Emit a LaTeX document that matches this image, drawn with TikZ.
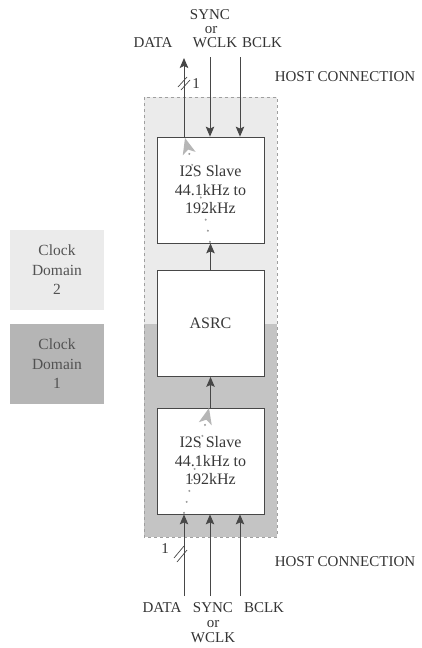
\documentclass[tikz,border=0pt]{standalone}
\usepackage{fontspec}
\setmainfont{Liberation Serif}
\usetikzlibrary{arrows.meta}
\usetikzlibrary{positioning}

\definecolor{lightdom}{gray}{0.92}
\definecolor{darkdom}{gray}{0.77}
\definecolor{keydark}{gray}{0.71}
\definecolor{wire}{gray}{0.28}
\definecolor{flow}{gray}{0.62}

\tikzset{
  blk/.style={draw=wire, line width=0.8pt, fill=white, minimum width=107pt,
    minimum height=106pt, align=center, text=black!78,
    font=\fontsize{16}{18.5}\selectfont},
  sig/.style={draw=wire, line width=0.9pt, -{Stealth[length=10pt,width=8.5pt,inset=2pt]}},
  lbl/.style={inner sep=0pt, text=black!80, font=\fontsize{15}{15}\selectfont},
  key/.style={minimum width=94pt, minimum height=80pt, align=center, text=black!68,
    font=\fontsize{15.5}{19.5}\selectfont},
  path flow/.style={draw=flow, line width=2pt, line cap=round, dash pattern=on 0.3pt off 11pt,
    -{Stealth[length=16pt,width=13pt,inset=4pt,color=flow!75,fill=flow!75]}},
}

\begin{document}
\begin{tikzpicture}[x=1pt,y=-1pt]
    \useasboundingbox (0,0) rectangle (421,648);

    % the two clock domains
    \fill[lightdom] (144,97) rectangle (277,324);
    \fill[darkdom] (144,324) rectangle (277,537);
    \draw[dashed, gray!75, line width=0.6pt] (144,97) rectangle (277,537);

    \node[key, fill=lightdom] (dom2) at (57,270) {Clock\\Domain\\2};
    \node[key, fill=keydark] (dom1) at (57,364) {Clock\\Domain\\1};

    \node[blk] (rx) at (210.5,461) {I2S Slave\\44.1kHz to\\192kHz};
    \node[blk] (asrc) at (210.5,323.5) {ASRC};
    \node[blk] (tx) at (210.5,190) {I2S Slave\\44.1kHz to\\192kHz};

    \coordinate (dataT) at (184,58);
    \coordinate (syncT) at (210,57);
    \coordinate (bclkT) at (240,57);
    \coordinate (dataB) at (184,596);
    \coordinate (syncB) at (210,596);
    \coordinate (bclkB) at (240,596);

    % host connection, top
    \draw[sig] (dataT |- tx.north) -- (dataT);
    \draw[sig] (syncT) -- (syncT |- tx.north);
    \draw[sig] (bclkT) -- (bclkT |- tx.north);
    \draw[wire, line width=0.7pt] (178,87) -- (187,77) (181,90) -- (190,80);
    \node[lbl] (nT) at (196,84) {1};

    \node[lbl] (syncTl) at (210,15) {SYNC};
    \node[lbl] (orT) at (211,30) {or};
    \node[lbl] (dataTl) at (153,43) {DATA};
    \node[lbl] (wclkTl) at (215,43) {WCLK};
    \node[lbl] (bclkTl) at (262,43) {BCLK};
    \node[lbl] (hostT) at (345,77) {HOST CONNECTION};

    % between the blocks
    \draw[sig] (rx) -- (asrc);
    \draw[sig] (asrc) -- (tx);

    % host connection, bottom
    \draw[sig] (dataB) -- (dataB |- rx.south);
    \draw[sig] (syncB) -- (syncB |- rx.south);
    \draw[sig] (bclkB) -- (bclkB |- rx.south);
    \draw[wire, line width=0.7pt] (174,558) -- (184,546) (177,562) -- (187,550);
    \node[lbl] (nB) at (165,549) {1};

    \node[lbl] (dataBl) at (162,608) {DATA};
    \node[lbl] (syncBl) at (213,608) {SYNC};
    \node[lbl] (orB) at (213,624) {or};
    \node[lbl] (wclkBl) at (213,638) {WCLK};
    \node[lbl] (bclkBl) at (264,608) {BCLK};
    \node[lbl] (hostB) at (345,562) {HOST CONNECTION};

    % data path through the blocks
    \draw[path flow] (184,513) .. controls (192,480) .. (209,408);
    \draw[path flow] (210,242) .. controls (203,205) .. (185,138);
\end{tikzpicture}
\end{document}
